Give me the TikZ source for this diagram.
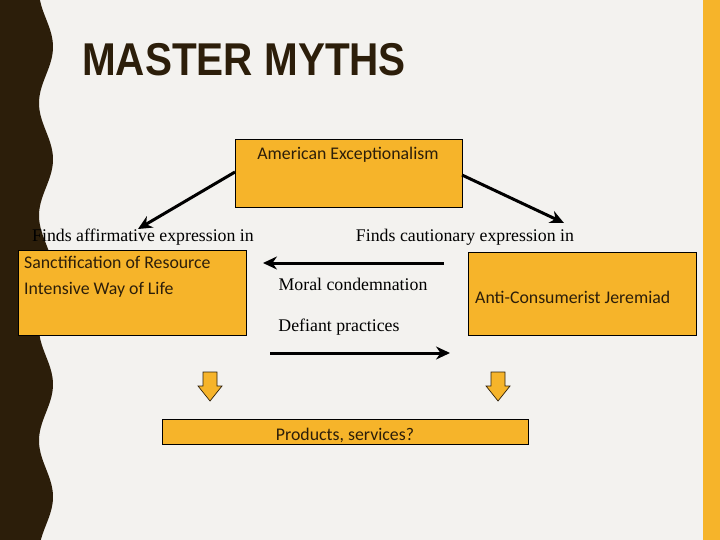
\documentclass[tikz,border=0pt]{standalone}
\usepackage{fontspec}
\setmainfont{Liberation Serif}
\newfontfamily\boxfont{Carlito}
\newfontfamily\titlefont{Liberation Sans}
\usetikzlibrary{arrows.meta}
\definecolor{bgc}{HTML}{F3F2EF}
\definecolor{brn}{HTML}{2C1E0A}
\definecolor{org}{HTML}{F6B42A}
\tikzset{
  obox/.style={draw=black, fill=org, line width=1pt},
  conn/.style={-{Stealth[length=14pt,width=13pt]}, line width=3pt},
  serif/.style={font=\fontsize{17.8}{20}\selectfont},
  btxt/.style={font=\boxfont\fontsize{17.8}{26}\selectfont, text=brn},
  darr/.style={draw=brn, fill=org, line width=0.7pt}
}
\begin{document}
\begin{tikzpicture}[x=1pt,y=-1pt]
\useasboundingbox (0,0) rectangle (720,540);
\fill[bgc] (0,0) rectangle (720,540);
\fill[org] (703,0) rectangle (720,540);
\fill[brn] (0,0) -- plot[domain=0:540,samples=120,smooth] ({46+7*sin(\x*3.2+ -60)},\x) -- (0,540) -- cycle;
\node[font=\titlefont\bfseries\fontsize{46}{46}\selectfont, text=brn, xscale=0.88, anchor=west, inner sep=0pt] (title) at (82,60) {MASTER MYTHS};
\node[obox, minimum width=227pt, minimum height=68pt, anchor=north west] (ae) at (235,139) {};
\node[btxt] (aet) at (348,155) {American Exceptionalism};
\node[obox, minimum width=228pt, minimum height=85pt, anchor=north west] (left) at (18,250) {};
\node[btxt, align=left, anchor=north west, inner sep=0pt] (leftt) at (24,256) {Sanctification of Resource\\Intensive Way of Life};
\node[obox, minimum width=228pt, minimum height=83pt, anchor=north west] (right) at (468,252) {};
\node[btxt, anchor=west, inner sep=0pt] (rightt) at (475,297) {Anti-Consumerist Jeremiad};
\node[obox, minimum width=366pt, minimum height=25pt, anchor=north west] (prod) at (162,419) {};
\node[btxt] (prodt) at (345,435) {Products, services?};
\node[serif] (aff) at (143,237) {Finds affirmative expression in};
\node[serif] (cau) at (465,237) {Finds cautionary expression in};
\node[serif] (moral) at (353,284) {Moral condemnation};
\node[serif] (def) at (339,327) {Defiant practices};
\coordinate (a1) at (235,172); \coordinate (a2) at (138,229);
\coordinate (b1) at (462,175); \coordinate (b2) at (564,223);
\coordinate (c1) at (444,263); \coordinate (c2) at (263,263);
\coordinate (d1) at (270,353); \coordinate (d2) at (450,353);
\draw[conn] (a1) -- (a2);
\draw[conn] (b1) -- (b2);
\draw[conn] (c1) -- (c2);
\draw[conn] (d1) -- (d2);
\foreach \n/\cx in {dl/210, dr/498}{
  \draw[darr] (\cx-7,372) -- (\cx+7,372) -- (\cx+7,386) -- (\cx+12,386) -- (\cx,401) -- (\cx-12,386) -- (\cx-7,386) -- cycle;
}
\end{tikzpicture}
\end{document}
